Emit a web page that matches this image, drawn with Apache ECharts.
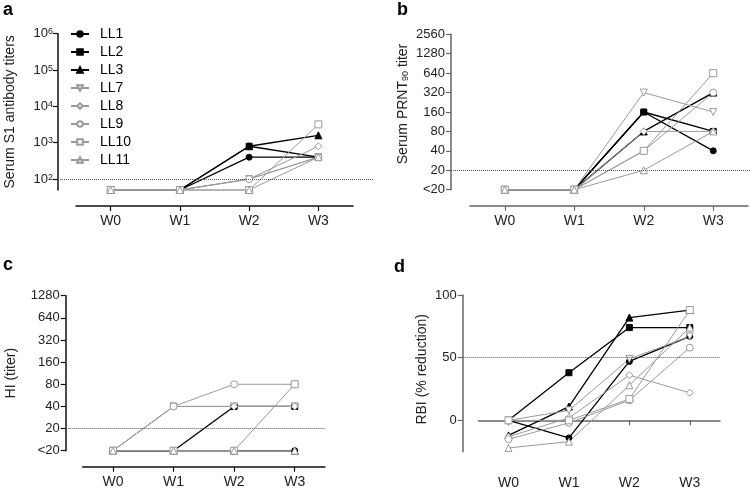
<!DOCTYPE html>
<html><head><meta charset="utf-8">
<script src="https://cdn.jsdelivr.net/npm/echarts@6/dist/echarts.min.js"></script>
<style>html,body{margin:0;padding:0;background:#fff}#c{width:750px;height:491px}</style>
</head><body><div id="c"></div>
<script>
// ---------- data ----------
const weeks = ['W0', 'W1', 'W2', 'W3'];
const animals = ['LL1', 'LL2', 'LL3', 'LL7', 'LL8', 'LL9', 'LL10', 'LL11'];

const s1Titers = [
  [50, 50, 400, 400],
  [50, 50, 800, 400],
  [50, 50, 800, 1600],
  [50, 50, 100, 400],
  [50, 50, 100, 800],
  [50, 50, 100, 400],
  [50, 50, 50, 3200],
  [50, 50, 50, 400]
];
const s1TickValues = [100, 1000, 10000, 100000, 1000000];
const s1Threshold = 100;

const prntLevels = ['<20', '20', '40', '80', '160', '320', '640', '1280', '2560'];
const prntTiters = [
  ['<20', '<20', '160', '40'],
  ['<20', '<20', '160', '80'],
  ['<20', '<20', '80', '320'],
  ['<20', '<20', '320', '160'],
  ['<20', '<20', '80', '80'],
  ['<20', '<20', '40', '320'],
  ['<20', '<20', '40', '640'],
  ['<20', '<20', '20', '80']
];
const prntThreshold = '20';

const hiLevels = ['<20', '20', '40', '80', '160', '320', '640', '1280'];
const hiTiters = [
  ['<20', '<20', '<20', '<20'],
  ['<20', '<20', '40', '40'],
  ['<20', '<20', '<20', '<20'],
  ['<20', '40', '40', '40'],
  ['<20', '40', '40', '40'],
  ['<20', '40', '80', '80'],
  ['<20', '<20', '<20', '80'],
  ['<20', '<20', '<20', '<20']
];
const hiThreshold = '20';

const rbiValues = [
  [0, -14, 47, 67],
  [0, 38, 74, 74],
  [-12, 11, 82, 88],
  [0, 8, 49, 67],
  [-13, 2, 36, 22],
  [-15, -2, 16, 58],
  [0, 0, 17, 88],
  [-22, -17, 28, 74]
];
const rbiTickValues = [0, 50, 100];
const rbiThreshold = 50;

// ---------- styles ----------
const FONT = 'Liberation Sans';
const GREY = '#9a9a9a';
const markerStyles = [
  { symbol: 'circle',   size: 6, fill: '#000', stroke: '#000', rotate: 0,   width: 1.3 },
  { symbol: 'rect',     size: 6, fill: '#000', stroke: '#000', rotate: 0,   width: 1.3 },
  { symbol: 'triangle', size: 7, fill: '#000', stroke: '#000', rotate: 0,   width: 1.3 },
  { symbol: 'triangle', size: 7, fill: '#fff', stroke: GREY,   rotate: 180, width: 1 },
  { symbol: 'diamond',  size: 7, fill: '#fff', stroke: GREY,   rotate: 0,   width: 1 },
  { symbol: 'circle',   size: 7, fill: '#fff', stroke: GREY,   rotate: 0,   width: 1 },
  { symbol: 'rect',     size: 7, fill: '#fff', stroke: GREY,   rotate: 0,   width: 1 },
  { symbol: 'triangle', size: 7, fill: '#fff', stroke: GREY,   rotate: 0,   width: 1 }
];

const panels = [
  { grid: { left: 76, top: 33.7, width: 277, height: 156.3 }, axisColor: '#111', lineX: [58, 373] },
  { grid: { left: 470, top: 34.3, width: 278, height: 155.4 }, axisColor: '#666', lineX: [451, 750] },
  { grid: { left: 82.7, top: 295.7, width: 242.3, height: 155 }, axisColor: '#111', lineX: [65.7, 325] },
  { grid: { left: 478.3, top: 295, width: 241.7, height: 156.7 }, axisColor: '#666', lineX: [462.7, 720] }
];
const panelData = [s1Titers, prntTiters, hiTiters, rbiValues];
const thresholds = [s1Threshold, prntThreshold, hiThreshold, rbiThreshold];

const labelStyle = { fontFamily: FONT, fontSize: 13, color: '#222' };
const nameStyle = { fontFamily: FONT, fontSize: 14, color: '#222' };

function xAxisFor(i) {
  const c = panels[i].axisColor;
  return {
    type: 'category', gridIndex: i, data: weeks, boundaryGap: true, offset: 16,
    axisLine: { show: true, lineStyle: { color: c, width: 1.5 } },
    axisTick: { show: true, alignWithLabel: true, length: 5, lineStyle: { color: c, width: 1.2 } },
    axisLabel: { fontFamily: FONT, fontSize: 14, color: '#222', margin: 8 },
    splitLine: { show: false }
  };
}
function yBase(i) {
  const c = panels[i].axisColor;
  return {
    gridIndex: i, nameLocation: 'middle', nameRotate: 90,
    axisLine: { show: true, lineStyle: { color: c, width: 1.5 } },
    axisTick: { show: true, length: 5, lineStyle: { color: c, width: 1.2 } },
    splitLine: { show: false },
    nameTextStyle: nameStyle
  };
}

const yAxes = [
  Object.assign(yBase(0), {
    type: 'log', logBase: 10, min: 50, max: 1000000, offset: 18,
    name: 'Serum S1 antibody titers', nameGap: 41,
    axisTick: { show: true, length: 5, customValues: s1TickValues, lineStyle: { color: '#111', width: 1.2 } },
    axisLabel: {
      customValues: s1TickValues, margin: 5,
      formatter: v => '{b|10}{s|' + Math.round(Math.log10(v)) + '}',
      rich: { b: { fontFamily: FONT, fontSize: 13, color: '#222' }, s: { fontFamily: FONT, fontSize: 9, color: '#222', verticalAlign: 'top' } }
    }
  }),
  Object.assign(yBase(1), {
    type: 'category', data: prntLevels, boundaryGap: false, offset: 19,
    name: 'Serum PRNT{sub|90} titer', nameGap: 41,
    nameTextStyle: Object.assign({}, nameStyle, { padding: [0, 0, 0, 16], rich: { sub: { fontFamily: FONT, fontSize: 9, color: '#222', verticalAlign: 'bottom' } } }),
    axisLabel: Object.assign({ margin: 6 }, labelStyle)
  }),
  Object.assign(yBase(2), {
    type: 'category', data: hiLevels, boundaryGap: false, offset: 17,
    name: 'HI (titer)', nameGap: 48,
    axisLabel: Object.assign({ margin: 6 }, labelStyle)
  }),
  Object.assign(yBase(3), {
    type: 'value', min: -25, max: 100, offset: 15.6,
    name: 'RBI (% reduction)', nameGap: 34,
    nameTextStyle: Object.assign({}, nameStyle, { padding: [0, 0, 0, 8] }),
    axisTick: { show: true, length: 5, customValues: rbiTickValues, lineStyle: { color: '#666', width: 1.2 } },
    axisLabel: Object.assign({ margin: 6, customValues: rbiTickValues }, labelStyle)
  })
];

const series = [];
panelData.forEach((rows, p) => {
  rows.forEach((vals, k) => {
    const st = markerStyles[k];
    const s = {
      type: 'line', name: animals[k], xAxisIndex: p, yAxisIndex: p, data: vals,
      symbol: st.symbol, symbolSize: st.size, symbolRotate: st.rotate, showSymbol: true,
      itemStyle: { color: st.fill, borderColor: st.stroke, borderWidth: 1 },
      lineStyle: { color: st.stroke, width: st.width },
      clip: false, silent: true, animation: false
    };
    if (k === 0) {
      s.markLine = {
        silent: true, symbol: ['none', 'none'], label: { show: false }, animation: false,
        lineStyle: { type: 'dotted', color: '#555', width: 1 },
        data: [[{ yAxis: thresholds[p], x: panels[p].lineX[0] }, { yAxis: thresholds[p], x: panels[p].lineX[1] }]]
      };
    }
    series.push(s);
  });
});

const titleStyle = { fontFamily: FONT, fontSize: 18, fontWeight: 'bold', color: '#000' };
const chart = echarts.init(document.getElementById('c'), null, { renderer: 'canvas' });
chart.setOption({
  backgroundColor: '#fff',
  animation: false,
  title: [
    { text: 'a', left: 3, top: 1, padding: 0, textStyle: titleStyle },
    { text: 'b', left: 397, top: 1, padding: 0, textStyle: titleStyle },
    { text: 'c', left: 3, top: 256, padding: 0, textStyle: titleStyle },
    { text: 'd', left: 394, top: 258, padding: 0, textStyle: titleStyle }
  ],
  legend: {
    data: animals, orient: 'vertical', left: 70, top: 27, padding: 0,
    itemWidth: 18, itemHeight: 7, itemGap: 4,
    textStyle: { fontFamily: FONT, fontSize: 14, color: '#000', lineHeight: 14, padding: [0, 0, 0, 6] },
    selectedMode: false
  },
  grid: panels.map(p => Object.assign({ containLabel: false }, p.grid)),
  xAxis: [0, 1, 2, 3].map(xAxisFor),
  yAxis: yAxes,
  series: series
});
</script></body></html>
